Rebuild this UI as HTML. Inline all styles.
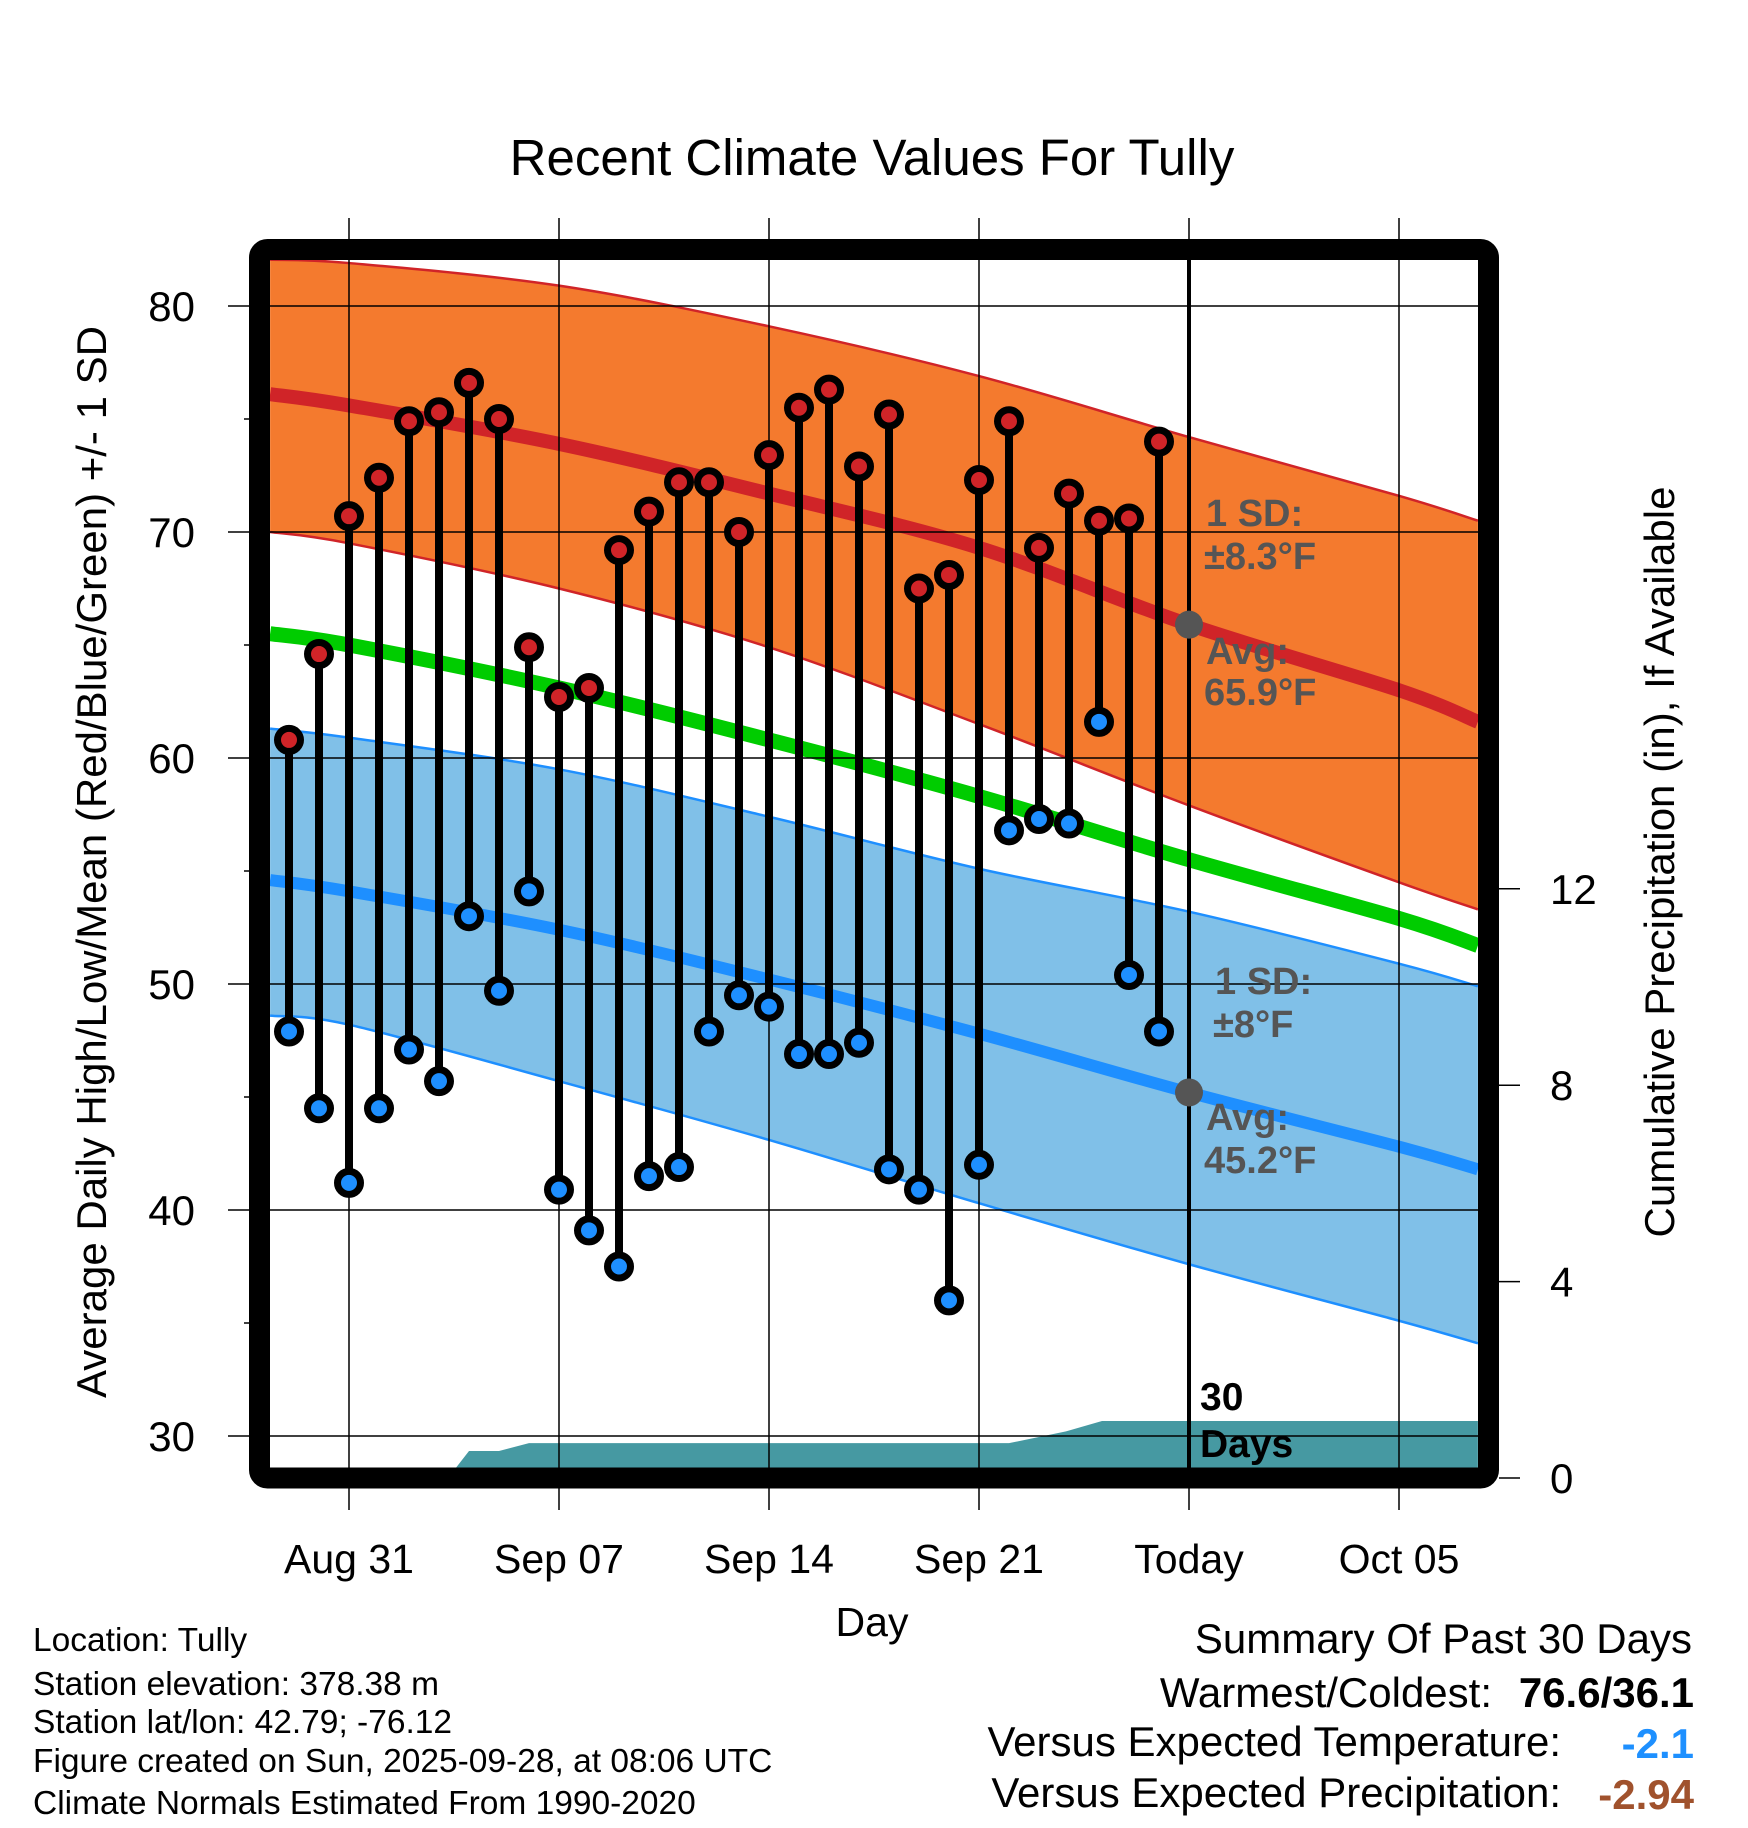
<!DOCTYPE html>
<html><head><meta charset="utf-8"><style>
body{margin:0;background:#fff}
svg{display:block;font-family:"Liberation Sans",sans-serif}
</style></head><body>
<svg id="c" width="1748" height="1828" viewBox="0 0 1748 1828" xmlns="http://www.w3.org/2000/svg">
<defs><clipPath id="clip"><rect x="270" y="260" width="1208" height="1208"/></clipPath></defs>
<text x="872" y="175" font-size="51" text-anchor="middle">Recent Climate Values For Tully</text>
<g id="plot" clip-path="url(#clip)"></g>
<g id="grid"></g>
<g id="marks"></g>
<rect x="259.5" y="249.5" width="1229" height="1228.5" rx="8" fill="none" stroke="#000" stroke-width="21"/>
<g id="axes"></g>
<g font-weight="bold" fill="#555" font-size="38">
<text x="1206" y="526">1 SD:</text>
<text x="1204" y="569">±8.3°F</text>
<text x="1206" y="664">Avg:</text>
<text x="1204" y="705">65.9°F</text>
<text x="1215" y="994">1 SD:</text>
<text x="1213" y="1037">±8°F</text>
<text x="1206" y="1130">Avg:</text>
<text x="1204" y="1173">45.2°F</text>
</g>
<text x="1200" y="1410" font-size="39" font-weight="bold">30</text>
<text x="1200" y="1457" font-size="39" font-weight="bold">Days</text>
<text x="872" y="1636" font-size="41" text-anchor="middle">Day</text>
<text transform="translate(106,862) rotate(-90)" font-size="42" text-anchor="middle">Average Daily High/Low/Mean (Red/Blue/Green) +/- 1 SD</text>
<text transform="translate(1674,862) rotate(-90)" font-size="42" text-anchor="middle">Cumulative Precipitation (in), If Available</text>
<g font-size="33.5">
<text x="33" y="1651">Location: Tully</text>
<text x="33" y="1695">Station elevation: 378.38 m</text>
<text x="33" y="1733">Station lat/lon: 42.79; -76.12</text>
<text x="33" y="1772">Figure created on Sun, 2025-09-28, at 08:06 UTC</text>
<text x="33" y="1814">Climate Normals Estimated From 1990-2020</text>
</g>
<g font-size="42">
<text x="1692" y="1653" text-anchor="end">Summary Of Past 30 Days</text>
<text x="1492" y="1707" text-anchor="end">Warmest/Coldest:</text>
<text x="1694" y="1707" text-anchor="end" font-weight="bold">76.6/36.1</text>
<text x="1561" y="1756" text-anchor="end">Versus Expected Temperature:</text>
<text x="1694" y="1758" text-anchor="end" font-weight="bold" fill="#1e90ff">-2.1</text>
<text x="1561" y="1807" text-anchor="end">Versus Expected Precipitation:</text>
<text x="1694" y="1809" text-anchor="end" font-weight="bold" fill="#a0522d">-2.94</text>
</g>
</svg>
<script>
// days relative to Aug 31
const highs=[60.8,64.6,70.7,72.4,74.9,75.3,76.6,75.0,64.9,62.7,63.1,69.2,70.9,72.2,72.2,70.0,73.4,75.5,76.3,72.9,75.2,67.5,68.1,72.3,74.9,69.3,71.7,70.5,70.6,74.0];
const lows=[47.9,44.5,41.2,44.5,47.1,45.7,53.0,49.7,54.1,40.9,39.1,37.5,41.5,41.9,47.9,49.5,49.0,46.9,46.9,47.4,41.8,40.9,36.0,42.0,56.8,57.3,57.1,61.6,50.4,47.9];
const firstDay=-2;
const normDays=[-2.63,0,7,14,21,28,35,37.63];
const normHigh=[76.1,75.6,73.9,71.7,69.3,65.9,63.0,61.6];
const highUpper=[82.05,81.9,80.9,79.1,76.9,74.2,71.6,70.5];
const highLower=[70.0,69.5,67.5,64.9,61.5,57.9,54.5,53.3];
const normMean=[65.5,65.0,63.1,60.8,58.3,55.5,52.9,51.7];
const normLow=[54.6,54.1,52.4,50.2,47.8,45.2,42.8,41.8];
const lowUpper=[61.3,60.9,59.5,57.4,55.1,53.2,50.9,49.9];
const lowLower=[48.6,48.2,45.7,43.1,40.3,37.6,35.1,34.1];
const precipDays=[-2.63,3.3,4.0,5.0,6.0,22.0,23.9,25.1,37.63];
const precipVals=[0,0,0.55,0.55,0.71,0.71,0.95,1.16,1.16];
const xTickDays=[0,7,14,21,28,35];
const xTickLabels=["Aug 31","Sep 07","Sep 14","Sep 21","Today","Oct 05"];
const yTicks=[30,40,50,60,70,80];
const y2Ticks=[0,4,8,12];
const todayDay=28;

const NS="http://www.w3.org/2000/svg";
const X=d=>349+d*30, Y=v=>306+(80-v)*22.6, YP=p=>1478-p*49.1;
function el(t,a,p){const e=document.createElementNS(NS,t);for(const k in a)e.setAttribute(k,a[k]);p.appendChild(e);return e;}
const plot=document.getElementById('plot'),grid=document.getElementById('grid'),marks=document.getElementById('marks'),axes=document.getElementById('axes');
function curve(P,start){
  let s=start+P[0][0]+','+P[0][1];
  for(let i=0;i<P.length-1;i++){
    const p0=P[Math.max(i-1,0)],p1=P[i],p2=P[i+1],p3=P[Math.min(i+2,P.length-1)];
    const c1=[p1[0]+(p2[0]-p0[0])/6,p1[1]+(p2[1]-p0[1])/6];
    const c2=[p2[0]-(p3[0]-p1[0])/6,p2[1]-(p3[1]-p1[1])/6];
    s+=' C'+c1+' '+c2+' '+p2;
  }
  return s;
}
const ptsOf=arr=>normDays.map((d,i)=>[X(d),Y(arr[i])]);
const smooth=arr=>curve(ptsOf(arr),'M');
const smoothRev=arr=>curve(ptsOf(arr).reverse(),' L')+' Z';
function band(up,lo,fill,edge,name){
  const p=el('path',{d:smooth(up)+smoothRev(lo),fill:fill},plot);
  
  
  [up,lo].forEach(a=>{const l=el('path',{d:smooth(a),fill:'none',stroke:edge,'stroke-width':2.5},plot);
  
  });
}
function line(a,c,w,name){const l=el('path',{d:smooth(a),fill:'none',stroke:c,'stroke-width':w},plot);
  
  }
band(highUpper,highLower,'#f47a2e','#d02428','high-sd-band');
band(lowUpper,lowLower,'#80c0e8','#1e8fff','low-sd-band');
line(normHigh,'#d02428',14,'normal-high-line');
line(normMean,'#00cc00',15,'normal-mean-line');
line(normLow,'#1e8fff',12,'normal-low-line');
// precip
let pp=precipDays.map((d,i)=>X(d)+','+YP(precipVals[i]));
pp.push(X(37.63)+',1470',X(-2.63)+',1470');
const pr=el('polygon',{points:pp.join(' '),fill:'#4699a2'},plot);


// grid
yTicks.forEach(v=>{const g=el('line',{x1:228,x2:1478,y1:Y(v),y2:Y(v),stroke:'#000','stroke-width':1.5},grid);
  
  
  const t=el('text',{x:195,y:Y(v)+15,'font-size':42,'text-anchor':'end'},axes);t.textContent=v;
  
  });
[35,45,55,65,75].forEach(v=>{el('line',{x1:244,x2:250,y1:Y(v),y2:Y(v),stroke:'#000','stroke-width':1.5},grid);});
xTickDays.forEach((d,i)=>{const g=el('line',{x1:X(d),x2:X(d),y1:218,y2:1510,stroke:'#000','stroke-width':1.5},grid);
  
  
  const t=el('text',{x:X(d),y:1573,'font-size':41,'text-anchor':'middle'},axes);t.textContent=xTickLabels[i];
  
  });
y2Ticks.forEach(p=>{el('line',{x1:1499,x2:1520,y1:YP(p),y2:YP(p),stroke:'#000','stroke-width':1.5},axes);
  const t=el('text',{x:1550,y:YP(p)+15,'font-size':42},axes);t.textContent=p;
  
  });
const tl=el('line',{x1:X(todayDay),x2:X(todayDay),y1:260,y2:1470,stroke:'#000','stroke-width':4},grid);


// stems
highs.forEach((h,i)=>{const x=X(firstDay+i);
  const s=el('line',{x1:x,x2:x,y1:Y(h),y2:Y(lows[i]),stroke:'#000','stroke-width':8},marks);
  
  });
highs.forEach((h,i)=>{const x=X(firstDay+i);
  const a=el('circle',{cx:x,cy:Y(h),r:11.5,fill:'#d02428',stroke:'#000','stroke-width':7},marks);
  
  
  const b=el('circle',{cx:x,cy:Y(lows[i]),r:11.5,fill:'#1e8fff',stroke:'#000','stroke-width':7},marks);
  
  });
const g1=el('circle',{cx:X(todayDay),cy:Y(normHigh[5]),r:14,fill:'#555'},marks);


const g2=el('circle',{cx:X(todayDay),cy:Y(normLow[5]),r:14,fill:'#555'},marks);


</script>
</body></html>
